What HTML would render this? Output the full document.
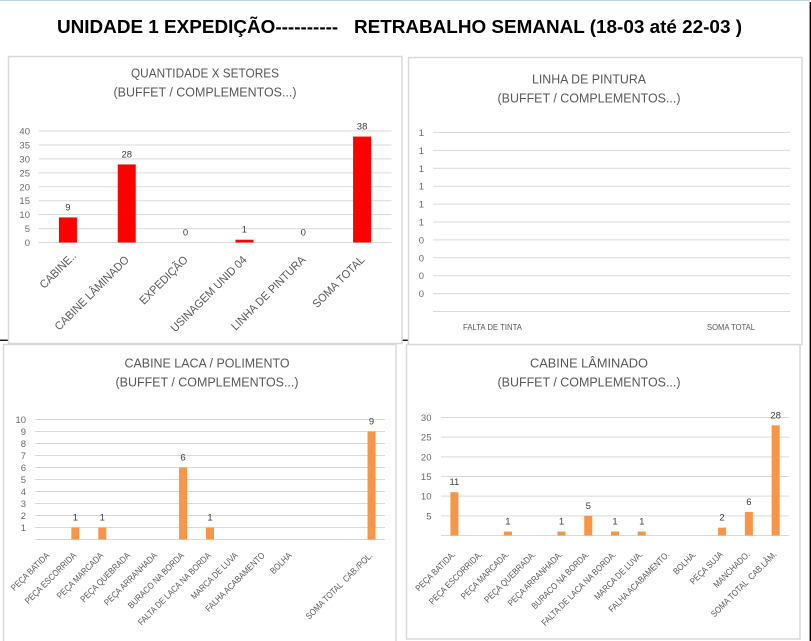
<!DOCTYPE html>
<html lang="pt">
<head>
<meta charset="utf-8">
<title>Retrabalho Semanal</title>
<style>
html,body{margin:0;padding:0;background:#fff;width:811px;height:641px;overflow:hidden}
svg{display:block;font-family:"Liberation Sans",Arial,sans-serif}
text{white-space:pre}
.panel{fill:#fff;stroke:#d9d9d9;stroke-width:1.5}
.ct{font-size:13px;fill:#595959;text-anchor:middle}
.grid{stroke:#d9d9d9;stroke-width:1}
.tick{font-size:9.5px;fill:#6b6b6b;text-anchor:end}
.val{font-size:9.5px;fill:#404040;text-anchor:middle}
.cat{fill:#595959}
</style>
</head>
<body>
<svg id="root" width="811" height="641" viewBox="0 0 811 641" xmlns="http://www.w3.org/2000/svg">
  <rect x="0" y="0" width="810" height="1" fill="#bcd6ee"/>
  <rect x="809.6" y="2" width="1.4" height="639" fill="#000"/>
  <rect x="0" y="339.6" width="8" height="1.3" fill="#000"/>
  <rect x="402" y="339.6" width="6" height="1.3" fill="#000"/>
  <text x="57" y="33" font-size="18.5" font-weight="bold" fill="#000" textLength="685" lengthAdjust="spacingAndGlyphs">UNIDADE 1 EXPEDIÇÃO----------   RETRABALHO SEMANAL (18-03 até 22-03 )</text>

  <rect class="panel" x="3.5" y="344.5" width="392.5" height="300"/>
  <rect class="panel" x="406.5" y="344.5" width="393.5" height="294.5"/>
  <rect class="panel" x="8.5" y="56.5" width="393.5" height="287"/>
  <rect class="panel" x="408.5" y="57.5" width="393.5" height="287"/>

  <g id="c1">
    <text class="ct" x="205" y="77.5" textLength="148" lengthAdjust="spacingAndGlyphs">QUANTIDADE X SETORES</text>
    <text class="ct" x="205" y="96.5" textLength="183" lengthAdjust="spacingAndGlyphs">(BUFFET / COMPLEMENTOS...)</text>
  </g>
  <g id="c2">
    <text class="ct" x="589" y="83.5" textLength="114" lengthAdjust="spacingAndGlyphs">LINHA DE PINTURA</text>
    <text class="ct" x="589" y="102.5" textLength="183" lengthAdjust="spacingAndGlyphs">(BUFFET / COMPLEMENTOS...)</text>
  </g>
  <g id="c3">
    <text class="ct" x="207" y="367.5" textLength="165" lengthAdjust="spacingAndGlyphs">CABINE LACA / POLIMENTO</text>
    <text class="ct" x="207" y="386.5" textLength="183" lengthAdjust="spacingAndGlyphs">(BUFFET / COMPLEMENTOS...)</text>
  </g>
  <g id="c4">
    <text class="ct" x="589" y="367.5" textLength="118" lengthAdjust="spacingAndGlyphs">CABINE LÂMINADO</text>
    <text class="ct" x="589" y="386.5" textLength="183" lengthAdjust="spacingAndGlyphs">(BUFFET / COMPLEMENTOS...)</text>
  </g>
</svg>
<script>
var setoresCategories = ["CABINE..", "CABINE LÂMINADO", "EXPEDIÇÃO", "USINAGEM UNID 04", "LINHA DE PINTURA", "SOMA TOTAL"];
var setoresValues = [9, 28, 0, 1, 0, 38];
var setoresTicks = [0, 5, 10, 15, 20, 25, 30, 35, 40];

var pinturaCategories = ["FALTA DE TINTA", "SOMA TOTAL"];
var pinturaValues = [null, null];
var pinturaTicks = [0.1, 0.2, 0.3, 0.4, 0.5, 0.6, 0.7, 0.8, 0.9, 1];

var lacaCategories = ["PEÇA BATIDA", "PEÇA ESCORRIDA", "PEÇA MARCADA", "PEÇA QUEBRADA", "PEÇA ARRANHADA", "BURACO NA BORDA", "FALTA DE LACA NA BORDA", "MARCA DE LUVA", "FALHA ACABAMENTO", "BOLHA", "", "", "SOMA TOTAL  CAB./POL."];
var lacaValues = [null, 1, 1, null, null, 6, 1, null, null, null, null, null, 9];
var lacaTicks = [1, 2, 3, 4, 5, 6, 7, 8, 9, 10];

var laminadoCategories = ["PEÇA BATIDA.", "PEÇA ESCORRIDA.", "PEÇA MARCADA.", "PEÇA QUEBRADA.", "PEÇA ARRANHADA.", "BURACO NA BORDA.", "FALTA DE LACA NA BORDA.", "MARCA DE LUVA.", "FALHA ACABAMENTO.", "BOLHA.", "PEÇA SUJA", "MANCHADO.", "SOMA TOTAL  CAB.LÂM."];
var laminadoValues = [11, null, 1, null, 1, 5, 1, 1, null, null, 2, 6, 28];
var laminadoTicks = [5, 10, 15, 20, 25, 30];

var NS = "http://www.w3.org/2000/svg";

function mk(parent, tag, cls) {
  var el = document.createElementNS(NS, tag);
  if (cls) el.setAttribute("class", cls);
  parent.appendChild(el);
  return el;
}

function drawChart(id, categories, values, ticks, o) {
  var g = document.getElementById(id);
  var step = (o.right - o.left) / categories.length;
  function xScale(i) { return o.left + (i + 0.5) * step; }
  function yScale(v) { return o.base - (v / o.max) * (o.base - o.top); }

  var base = mk(g, "line", "grid");
  
  
  base.setAttribute("x1", o.left);
  base.setAttribute("x2", o.right);
  base.setAttribute("y1", o.base);
  base.setAttribute("y2", o.base);

  ticks.forEach(function (t) {
    var y = yScale(t);
    if (t !== 0) {
      var line = mk(g, "line", "grid");
      
      
      line.setAttribute("x1", o.left);
      line.setAttribute("x2", o.right);
      line.setAttribute("y1", y);
      line.setAttribute("y2", y);
    }
    var lab = mk(g, "text", "tick");
    
    
    lab.setAttribute("x", o.tickX);
    lab.setAttribute("y", y + 3.5);
    lab.textContent = String(Math.round(t));
  });

  values.forEach(function (v, i) {
    if (v === null) return;
    var y = yScale(v);
    var bar = mk(g, "rect");
    
    
    bar.setAttribute("x", xScale(i) - o.barW / 2);
    bar.setAttribute("y", y);
    bar.setAttribute("width", o.barW);
    bar.setAttribute("height", o.base - y);
    bar.setAttribute("fill", o.color);
    var lab = mk(g, "text", "val");
    
    
    lab.setAttribute("x", xScale(i));
    lab.setAttribute("y", y - 7);
    lab.textContent = String(v);
  });

  categories.forEach(function (c, i) {
    if (!c) return;
    var lab = mk(g, "text", "cat");
    
    
    lab.setAttribute("font-size", o.catSize);
    if (o.flat) {
      lab.setAttribute("text-anchor", "middle");
      lab.setAttribute("x", o.catX[i]);
      lab.setAttribute("y", o.catY);
      lab.setAttribute("textLength", o.catLen[i]);
      lab.setAttribute("lengthAdjust", "spacingAndGlyphs");
    } else {
      var nudge = (o.catNudge && o.catNudge[i]) || [0, 0];
      lab.setAttribute("text-anchor", "end");
      lab.setAttribute("transform", "translate(" + (xScale(i) + o.catDx + nudge[0]) + "," + (o.base + o.catDy + nudge[1]) + ") rotate(-45) scale(" + o.catScale + ",1)");
    }
    lab.textContent = c;
  });
}

drawChart("c1", setoresCategories, setoresValues, setoresTicks, {
  left: 38.5, right: 391.5, top: 131, base: 242.5, max: 40, tickX: 30, barW: 18, color: "#ff0000",
  catSize: 11.5, catScale: 0.94, catDx: 3, catDy: 18, catNudge: { 0: [6, -4] }
});
drawChart("c2", pinturaCategories, pinturaValues, pinturaTicks, {
  left: 433, right: 790, top: 132.5, base: 311.5, max: 1, tickX: 424, barW: 18, color: "#f79646",
  catSize: 8.5, flat: true, catX: [492.5, 731], catLen: [59, 48], catY: 330
});
drawChart("c3", lacaCategories, lacaValues, lacaTicks, {
  left: 35, right: 385, top: 419.5, base: 539.5, max: 10, tickX: 26, barW: 8, color: "#f79646",
  catSize: 9, catScale: 0.86, catDx: 1.5, catDy: 16.5
});
drawChart("c4", laminadoCategories, laminadoValues, laminadoTicks, {
  left: 441, right: 789, top: 417.5, base: 535.5, max: 30, tickX: 431.5, barW: 8, color: "#f79646",
  catSize: 9, catScale: 0.86, catDx: 1.5, catDy: 19.5
});
</script>
</body>
</html>
